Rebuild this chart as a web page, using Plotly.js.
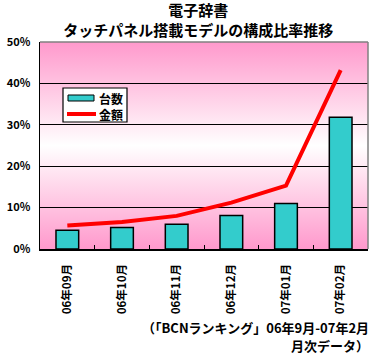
<!DOCTYPE html>
<html>
<head>
<meta charset="utf-8">
<script src="https://cdn.plot.ly/plotly-3.0.1.min.js"></script>
<style>html,body{margin:0;padding:0;background:#fff;}#chart{width:376px;height:358px;}</style>
</head>
<body>
<div id="chart"></div>
<script>
const categories = ["06年09月", "06年10月", "06年11月", "06年12月", "07年01月", "07年02月"];
const unitShare = [4.5, 5.2, 6.0, 8.1, 11.0, 31.8];    // 台数 (%)
const amountShare = [5.7, 6.5, 8.0, 11.2, 15.3, 43.2]; // 金額 (%)
const yTicks = [0, 10, 20, 30, 40, 50];
const seriesNames = ["台数", "金額"];

const FONT = '"Noto Sans CJK JP", "Noto Sans", sans-serif';
const pink = '#FF99CC';

const svg = "<svg xmlns='http://www.w3.org/2000/svg' width='100' height='100' preserveAspectRatio='none' viewBox='0 0 100 100'>" +
  "<defs><linearGradient id='g' x1='0' y1='0' x2='0' y2='1'>" +
  "<stop offset='0' stop-color='" + pink + "'/><stop offset='0.5' stop-color='#FFFFFF'/><stop offset='1' stop-color='" + pink + "'/>" +
  "</linearGradient></defs><rect x='0' y='0' width='100' height='100' fill='url(#g)'/></svg>";
const gradSrc = 'data:image/svg+xml;charset=utf-8,' + encodeURIComponent(svg);

// plot area in pixels: x 40..368, y 42..249
const PL = 40, PW = 328, PT = 42, PH = 207;
const px = x => (x - PL) / PW;
const py = y => (PT + PH - y) / PH;

const traces = [
  {
    type: 'bar', name: seriesNames[0], x: categories, y: unitShare,
    marker: {color: '#33CCCC', line: {color: '#000', width: 1.5}},
    showlegend: false, hoverinfo: 'skip'
  },
  {
    type: 'scatter', mode: 'lines', name: seriesNames[1], x: categories, y: amountShare,
    line: {color: '#FF0000', width: 4},
    showlegend: false, hoverinfo: 'skip'
  }
];

const layout = {
  width: 376, height: 358,
  margin: {l: PL, r: 376 - PL - PW, t: PT, b: 358 - PT - PH},
  paper_bgcolor: '#fff',
  plot_bgcolor: 'rgba(0,0,0,0)',
  font: {family: FONT, color: '#000', size: 11, weight: 'bold'},
  title: {
    text: '<b>電子辞書</b><br><b>タッチパネル搭載モデルの構成比率推移</b>',
    font: {family: FONT, size: 15, color: '#000'},
    x: 0.527, xref: 'container', xanchor: 'center',
    y: 1 - 16 / 358, yref: 'container', yanchor: 'middle'
  },
  bargap: 0.585,
  xaxis: {
    type: 'category', range: [-0.5, 5.5], autorange: false,
    showline: true, linecolor: '#000', linewidth: 1.5,
    ticks: 'inside', tickson: 'boundaries', ticklen: 4, tickcolor: '#000', tickwidth: 1,
    tickangle: -90, ticklabelstandoff: 9,
    tickfont: {family: FONT, size: 11.5, color: '#000', weight: 'bold'},
    showgrid: false, fixedrange: true, automargin: false
  },
  yaxis: {
    range: [0, 50], autorange: false, tickvals: yTicks, ticktext: yTicks.map(v => v + '%'),
    showline: true, linecolor: '#000', linewidth: 1.5,
    ticks: '', ticklabelstandoff: 6,
    showgrid: true, gridcolor: '#000', gridwidth: 1.2,
    zeroline: false,
    tickfont: {family: FONT, size: 11, color: '#000', weight: 'bold'},
    fixedrange: true, automargin: false
  },
  images: [{
    source: gradSrc, xref: 'paper', yref: 'paper', x: 0, y: 1, sizex: 1, sizey: 1,
    xanchor: 'left', yanchor: 'top', sizing: 'stretch', layer: 'below'
  }],
  shapes: [
    {type: 'line', xref: 'paper', yref: 'paper', x0: 0, x1: 1, y0: 1, y1: 1, line: {color: '#808080', width: 1.5}},
    {type: 'line', xref: 'paper', yref: 'paper', x0: 1, x1: 1, y0: 0, y1: 1, line: {color: '#808080', width: 1.5}},
    {type: 'rect', xref: 'paper', yref: 'paper', x0: px(63), x1: px(127), y0: py(122), y1: py(88),
      fillcolor: '#fff', line: {color: '#000', width: 1.2}},
    {type: 'rect', xref: 'paper', yref: 'paper', x0: px(68), x1: px(94), y0: py(101), y1: py(95),
      fillcolor: '#33CCCC', line: {color: '#000', width: 1}},
    {type: 'line', xref: 'paper', yref: 'paper', x0: px(67), x1: px(96), y0: py(114), y1: py(114),
      line: {color: '#FF0000', width: 4}}
  ],
  annotations: [
    {text: seriesNames[0], xref: 'paper', yref: 'paper', x: px(97), y: py(98), xanchor: 'left', yanchor: 'middle',
      showarrow: false, font: {family: FONT, size: 12, color: '#000', weight: 'bold'}},
    {text: seriesNames[1], xref: 'paper', yref: 'paper', x: px(97), y: py(114), xanchor: 'left', yanchor: 'middle',
      showarrow: false, font: {family: FONT, size: 12, color: '#000', weight: 'bold'}},
    {text: '（「BCNランキング」06年9月-07年2月', xref: 'paper', yref: 'paper',
      x: px(371), y: py(327), xanchor: 'right', yanchor: 'middle', showarrow: false,
      font: {family: FONT, size: 13, color: '#000', weight: 'bold'}},
    {text: '月次データ）', xref: 'paper', yref: 'paper',
      x: px(371), y: py(345), xanchor: 'right', yanchor: 'middle', showarrow: false,
      font: {family: FONT, size: 13, color: '#000', weight: 'bold'}}
  ]
};

Plotly.newPlot('chart', traces, layout, {displayModeBar: false, staticPlot: true});
</script>
</body>
</html>
